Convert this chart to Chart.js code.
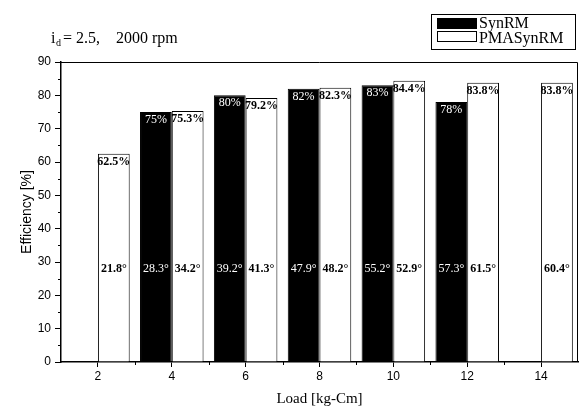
<!DOCTYPE html>
<html>
<head>
<meta charset="utf-8">
<title>Efficiency vs Load</title>
<script src="https://cdn.jsdelivr.net/npm/chart.js@4.4.1/dist/chart.umd.min.js"></script>
<style>
    body { margin: 0; background: #fff; }
    #wrap { width: 581px; height: 412px; }
</style>
</head>
<body>
<div id="wrap"><canvas id="effChart" width="581" height="412"></canvas></div>
<script>

// values
var loads = ['2', '4', '6', '8', '10', '12', '14'];
var synrmEff = [null, 75, 80, 82, 83, 78, null];
var pmaEff = [62.5, 75.3, 79.2, 82.3, 84.4, 83.8, 83.8];
var synrmAngle = [null, 28.3, 39.2, 47.9, 55.2, 57.3, null];
var pmaAngle = [21.8, 34.2, 41.3, 48.2, 52.9, 61.5, 60.4];
var yTicks = [0, 10, 20, 30, 40, 50, 60, 70, 80, 90];
var seriesNames = ['SynRM', 'PMASynRM'];

var serif = '"Liberation Serif", "DejaVu Serif", serif';
var sans = '"Liberation Sans", Arial, sans-serif';
var angleLevel = 28; // where the angle labels sit

// frame, minor ticks, legend, heading and bar labels
var extras = {
    id: 'extras',
    afterDatasetsDraw: function (chart) {
        var ctx = chart.ctx;
        var ca = chart.chartArea;
        var xs = chart.scales.x;
        var ys = chart.scales.y;
        var i;

        ctx.save();
        // bar labels
        ctx.textAlign = 'center';
        ctx.textBaseline = 'middle';
        for (var d = 0; d < 2; d++) {
            var meta = chart.getDatasetMeta(d);
            var eff = d == 0 ? synrmEff : pmaEff;
            var ang = d == 0 ? synrmAngle : pmaAngle;
            if (d == 0) {
                ctx.fillStyle = '#fff';
                ctx.font = '12px ' + serif;
            } else {
                ctx.fillStyle = '#000';
                ctx.font = 'bold 12px ' + serif;
            }
            for (i = 0; i < eff.length; i++) {
                if (eff[i] == null) continue;
                var bar = meta.data[i];
                ctx.fillText(eff[i] + '%', bar.x, bar.y + 8);
                ctx.fillText(ang[i].toFixed(1) + '\u00b0', bar.x, ys.getPixelForValue(angleLevel));
            }
        }

        // top and right frame
        ctx.strokeStyle = '#000';
        ctx.lineWidth = 1;
        ctx.beginPath();
        ctx.moveTo(ca.left, ca.top + 0.5);
        ctx.lineTo(ca.right - 0.5, ca.top + 0.5);
        ctx.lineTo(ca.right - 0.5, ca.bottom);
        ctx.stroke();

        // minor ticks
        ctx.beginPath();
        for (i = 0; i < yTicks.length - 1; i++) {
            var yy = Math.round(ys.getPixelForValue(yTicks[i] + 5)) + 0.5;
            ctx.moveTo(ca.left - 3, yy);
            ctx.lineTo(ca.left, yy);
        }
        for (i = 0; i < loads.length - 1; i++) {
            var xx = Math.round((xs.getPixelForValue(i) + xs.getPixelForValue(i + 1)) / 2) + 0.5;
            ctx.moveTo(xx, ca.bottom);
            ctx.lineTo(xx, ca.bottom + 3);
        }
        ctx.stroke();

        // heading
        ctx.fillStyle = '#000';
        ctx.textAlign = 'left';
        ctx.textBaseline = 'alphabetic';
        ctx.font = '16px ' + serif;
        ctx.fillText('i', 51, 43);
        ctx.font = '10px ' + serif;
        ctx.fillText('d', 56, 46);
        ctx.font = '16px ' + serif;
        ctx.fillText('= 2.5,', 63, 43);
        ctx.fillText('2000 rpm', 116, 43);

        // legend
        ctx.strokeRect(431.5, 14.5, 144, 35);
        ctx.fillRect(437, 18, 40, 11);
        ctx.strokeRect(437.5, 31.5, 39, 10);
        ctx.font = '16px ' + serif;
        ctx.fillText(seriesNames[0], 479, 28);
        ctx.fillText(seriesNames[1], 479, 43);
        ctx.restore();
    }
};

var ctxB = document.getElementById('effChart').getContext('2d');
var effChart = new Chart(ctxB, {
    type: 'bar',
    data: {
        labels: loads,
        datasets: [{
            label: seriesNames[0],
            data: synrmEff,
            backgroundColor: '#000',
            borderColor: '#000',
            borderWidth: 1
        }, {
            label: seriesNames[1],
            data: pmaEff,
            backgroundColor: '#fff',
            borderColor: '#000',
            borderWidth: 1
        }]
    },
    options: {
        responsive: false,
        devicePixelRatio: 1,
        animation: false,
        categoryPercentage: 0.86,
        barPercentage: 1,
        layout: { padding: { left: 0, right: 3, top: 62, bottom: 0 } },
        plugins: {
            legend: { display: false },
            tooltip: { enabled: false }
        },
        scales: {
            x: {
                offset: true,
                grid: { offset: false, drawOnChartArea: false, tickLength: 5, color: '#000' },
                border: { color: '#000', width: 1.5 },
                ticks: { color: '#000', font: { family: sans, size: 12 }, padding: 2, maxRotation: 0 },
                title: { display: true, text: 'Load [kg-Cm]', color: '#000', font: { family: serif, size: 15 }, padding: { top: 10 } },
                afterFit: function (scale) { scale.height = 50; }
            },
            y: {
                min: 0,
                max: 90,
                grid: { drawOnChartArea: false, tickLength: 6, color: '#000' },
                border: { color: '#000', width: 1.5 },
                ticks: { stepSize: 10, color: '#000', font: { family: sans, size: 12 }, padding: 4 },
                title: { display: true, text: 'Efficiency [%]', color: '#000', font: { family: sans, size: 14 }, padding: { top: 19 } },
                afterFit: function (scale) { scale.width = 61; }
            }
        }
    },
    plugins: [extras]
});
</script>
</body>
</html>
